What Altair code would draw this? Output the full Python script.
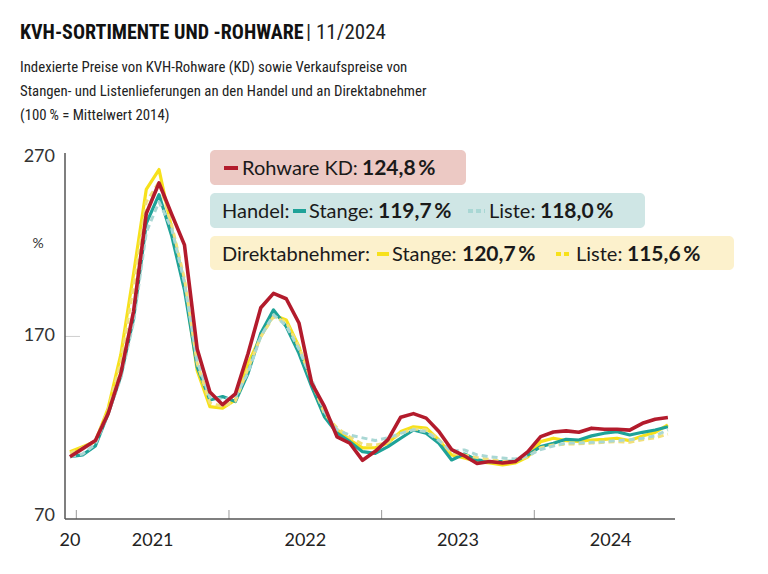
import altair as alt
import pandas as pd

# Monthly price indices, Dec 2020 - Nov 2024 (100 % = average 2014)
rohware_kd = [103.0, 107.5, 112.0, 127.0, 149.5, 184.0, 238.5, 255.5, 238.0, 221.0,
              163.0, 139.0, 132.0, 138.0, 160.5, 186.0, 194.0, 191.0, 177.5, 144.0,
              131.0, 114.0, 110.5, 101.0, 106.0, 112.5, 125.0, 127.0, 124.5, 117.0,
              107.0, 103.5, 99.2, 100.3, 99.5, 100.3, 105.8, 114.2, 116.8, 117.4,
              116.6, 118.9, 118.3, 118.3, 117.8, 121.6, 123.9, 124.8]
handel_stange = [103.0, 104.0, 109.0, 127.0, 148.0, 180.0, 233.0, 249.0, 226.0, 196.0,
                 153.0, 134.6, 136.5, 133.7, 149.5, 171.8, 184.8, 175.5, 160.6, 142.0,
                 125.3, 116.1, 111.4, 105.8, 104.9, 108.6, 113.3, 117.9, 116.1, 110.5,
                 101.2, 104.5, 101.2, 100.3, 100.3, 100.5, 104.0, 108.6, 110.5, 112.7,
                 112.3, 114.6, 116.1, 117.0, 115.1, 116.6, 117.9, 119.7]
handel_liste = [103.0, 104.5, 110.0, 127.0, 147.0, 178.0, 228.0, 245.0, 230.0, 200.0,
                156.0, 136.0, 135.0, 136.0, 150.0, 170.0, 182.0, 176.0, 163.0, 146.0,
                128.0, 118.0, 115.0, 113.5, 112.0, 113.5, 116.0, 118.0, 117.0, 112.0,
                106.0, 106.8, 104.0, 103.0, 102.3, 101.7, 103.5, 107.0, 109.0, 110.6,
                110.6, 111.0, 111.4, 112.0, 112.5, 113.3, 114.6, 118.0]
direkt_stange = [105.8, 108.6, 111.5, 130.0, 160.0, 205.0, 252.0, 263.0, 230.0, 200.0,
                 151.0, 130.9, 130.0, 134.6, 155.0, 170.0, 182.0, 179.2, 164.3, 143.0,
                 126.0, 118.0, 112.3, 107.9, 108.0, 110.6, 117.0, 119.7, 119.0, 112.3,
                 104.0, 102.3, 100.3, 99.5, 98.4, 99.5, 103.0, 111.4, 113.3, 112.0,
                 111.5, 112.3, 112.7, 113.3, 112.0, 114.5, 116.5, 120.7]
direkt_liste = [105.0, 108.0, 112.0, 129.0, 156.0, 198.0, 245.0, 256.0, 232.0, 202.0,
                155.0, 133.0, 131.0, 134.0, 152.0, 170.0, 181.0, 178.0, 164.0, 145.0,
                127.0, 119.0, 114.0, 110.0, 109.5, 111.0, 116.0, 118.5, 118.0, 112.5,
                105.0, 104.0, 102.5, 101.5, 100.5, 100.5, 103.0, 108.0, 109.5, 110.0,
                110.2, 110.6, 111.0, 111.4, 111.0, 112.5, 113.5, 115.6]

year_labels = ["20", "2021", "2022", "2023", "2024"]
y_ticks = [70, 170, 270]

W, H = 610, 366
LEFT, TOP = 65, 153
COND = "Liberation Sans Narrow, Roboto Condensed, DejaVu Sans Condensed, sans-serif"
SANS = "Lato, Open Sans, sans-serif"
AXIS_GREY = "#555555"

n = len(rohware_kd)
x_scale = alt.Scale(domain=[-0.39, 47.56], nice=False, zero=False)
y_scale = alt.Scale(domain=[68.3, 272.2], nice=False, zero=False)


def series_line(values, color, width, dash=None):
    df = pd.DataFrame({"m": list(range(n)), "v": values})
    kw = dict(color=color, strokeWidth=width, strokeJoin="round", strokeCap="butt")
    if dash:
        kw["strokeDash"] = dash
    return alt.Chart(df).mark_line(**kw).encode(
        x=alt.X("m:Q", scale=x_scale, axis=None),
        y=alt.Y("v:Q", scale=y_scale, axis=None),
    )


def label(text, x, y, size, weight="normal", color="#1a1a1a", font=COND,
          align="left", baseline="alphabetic"):
    return alt.Chart(pd.DataFrame({"t": [text]})).mark_text(
        align=align, baseline=baseline, fontSize=size, fontWeight=weight,
        font=font, color=color,
    ).encode(x=alt.value(x - LEFT), y=alt.value(y - TOP), text="t:N")


def box(x0, x1, y0, y1, color):
    return alt.Chart(pd.DataFrame({"b": [0]})).mark_rect(
        color=color, cornerRadius=5
    ).encode(x=alt.value(x0 - LEFT), x2=alt.value(x1 - LEFT),
             y=alt.value(y0 - TOP), y2=alt.value(y1 - TOP))


def key(x0, x1, y, color, dash=None):
    kw = dict(color=color, strokeWidth=4)
    if dash:
        kw["strokeDash"] = dash
    return alt.Chart(pd.DataFrame({"k": [0]})).mark_rule(**kw).encode(
        x=alt.value(x0 - LEFT), x2=alt.value(x1 - LEFT), y=alt.value(y - TOP))


RED, TEAL, YELLOW = "#b31b2c", "#1ea298", "#f7e11b"
LTEAL, LYELLOW = "#a9d7d4", "#f1e07a"

# axis lines
y_axis_line = alt.Chart(pd.DataFrame({"a": [0]})).mark_rule(
    color=AXIS_GREY, strokeWidth=1.5).encode(
    x=alt.value(0), y=alt.value(0), y2=alt.value(H))
x_axis_line = alt.Chart(pd.DataFrame({"a": [0]})).mark_rule(
    color=AXIS_GREY, strokeWidth=1.5).encode(
    x=alt.value(0), x2=alt.value(W), y=alt.value(H))

y_labels = alt.Chart(pd.DataFrame({"v": y_ticks})).mark_text(
    align="right", baseline="middle", fontSize=18, font=SANS, color="#333",
).encode(y=alt.Y("v:Q", scale=y_scale, axis=None), x=alt.value(-10), text="v:Q")

# year boundary ticks (between December and January)
bounds = pd.DataFrame({"m": [0.5 + 12 * k for k in range(4)]})
year_ticks = alt.Chart(bounds).mark_rule(color="#9a9a9a", strokeWidth=1).encode(
    x=alt.X("m:Q", scale=x_scale, axis=None), y=alt.value(H - 9), y2=alt.value(H))

tick170 = alt.Chart(pd.DataFrame({"v": [170]})).mark_rule(
    color="#cfcfcf", strokeWidth=1).encode(
    y=alt.Y("v:Q", scale=y_scale, axis=None), x=alt.value(0), x2=alt.value(15))

yl = pd.DataFrame({"t": year_labels,
                   "m": [0.0] + [0.5 + 12 * k + 6 for k in range(4)]})
year_text = alt.Chart(yl).mark_text(fontSize=18, font=SANS, color="#222",
                                    baseline="middle").encode(
    x=alt.X("m:Q", scale=x_scale, axis=None), y=alt.value(H + 22), text="t:N")

lines = [
    series_line(direkt_stange, YELLOW, 3.2),
    series_line(handel_stange, TEAL, 3.2),
    series_line(direkt_liste, LYELLOW, 3, [6, 4]),
    series_line(handel_liste, LTEAL, 3, [6, 4]),
    series_line(rohware_kd, RED, 3.6),
]

LG = 20      # legend text size
LB = 21      # legend value size
legend = [
    box(210, 466, 150, 185, "#ecc9c4"),
    key(224, 238, 168, RED),
    label("Rohware KD:", 242, 175, LG, font=SANS),
    label("124,8\u2009%", 362, 175, LB, weight="bold", font=SANS),
    box(210, 645, 193, 228, "#cfe6e5"),
    label("Handel:", 222, 218, LG, font=SANS),
    key(293, 306, 211, TEAL),
    label("Stange:", 309, 218, LG, font=SANS),
    label("119,7\u2009%", 378, 218, LB, weight="bold", font=SANS),
    key(468, 485, 211, LTEAL, [5, 3]),
    label("Liste:", 489, 218, LG, font=SANS),
    label("118,0\u2009%", 540, 218, LB, weight="bold", font=SANS),
    box(210, 734, 236, 270, "#fcf1cc"),
    label("Direktabnehmer:", 222, 261, LG, font=SANS),
    key(377, 389, 254, YELLOW),
    label("Stange:", 392, 261, LG, font=SANS),
    label("120,7\u2009%", 462, 261, LB, weight="bold", font=SANS),
    key(556, 572, 254, YELLOW, [5, 3]),
    label("Liste:", 576, 261, LG, font=SANS),
    label("115,6\u2009%", 627, 261, LB, weight="bold", font=SANS),
]

SUB = 14.8   # subtitle size
header = [
    label("KVH-SORTIMENTE UND -ROHWARE", 20, 39, 20, weight="bold", color="#111"),
    label("| 11/2024", 306, 39, 21, color="#222"),
    label("Indexierte Preise von KVH-Rohware (KD) sowie Verkaufspreise von", 20, 72, SUB, color="#222"),
    label("Stangen- und Listenlieferungen an den Handel und an Direktabnehmer", 20, 96, SUB, color="#222"),
    label("(100\u2009% = Mittelwert 2014)", 20, 120, SUB, color="#222"),
    label("%", 38, 248, 14, font=SANS, color="#333", align="center"),
]

chart = alt.layer(
    tick170, year_ticks, *lines, y_axis_line, x_axis_line, y_labels, year_text,
    *legend, *header
).properties(
    width=W, height=H,
    autosize=alt.AutoSizeParams(type="none"),
    padding={"left": LEFT, "top": TOP, "right": 768 - LEFT - W, "bottom": 574 - TOP - H},
    background="white",
).configure_view(stroke=None)

chart.save("out.html", embed_options={"renderer": "svg", "actions": False})
